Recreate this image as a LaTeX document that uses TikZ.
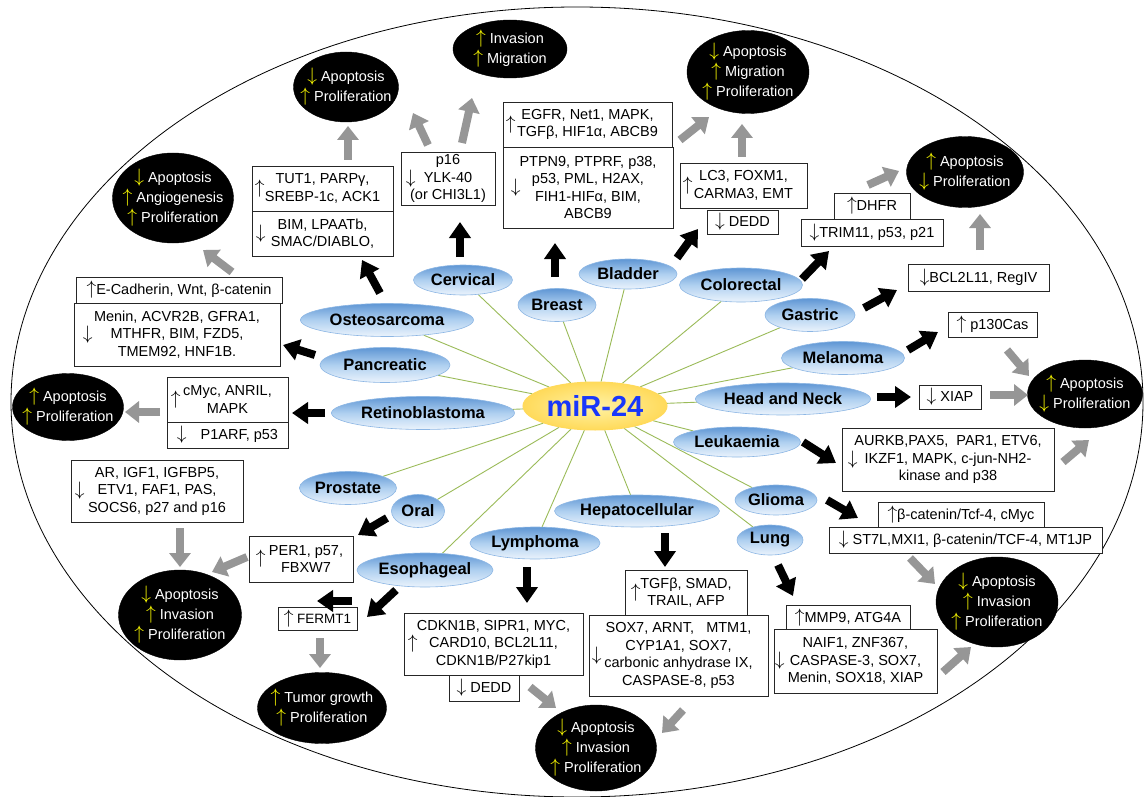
\documentclass[tikz,border=0pt]{standalone}
\usepackage{fontspec}
\setmainfont{Liberation Sans}
\usetikzlibrary{shapes.geometric,arrows.meta}
\pgfdeclarelayer{bg}
\pgfsetlayers{bg,main}
\definecolor{glinec}{RGB}{155,187,89}
\definecolor{grayarr}{RGB}{150,150,150}
\definecolor{cblueA}{RGB}{95,150,212}
\definecolor{cblueB}{RGB}{175,208,240}
\definecolor{cblueC}{RGB}{235,243,252}
\definecolor{cbord}{RGB}{140,182,228}
\definecolor{myel}{RGB}{255,218,90}
\definecolor{myelB}{RGB}{255,242,165}
\definecolor{mirtxt}{RGB}{25,55,250}
\definecolor{ylw}{RGB}{255,255,0}
\newcommand{\bxfont}{\fontsize{14.5}{17.5}\selectfont}
\newcommand{\cafont}{\fontsize{16.5}{19}\selectfont\bfseries}
\newcommand{\outfont}{\fontsize{14.5}{20}\selectfont}
\newcommand{\mirfont}{\fontsize{29}{32}\selectfont\bfseries}
\newcommand{\UpA}{\scalebox{1.35}{$\uparrow$}}
\newcommand{\DnA}{\scalebox{1.35}{$\downarrow$}}
\newcommand{\YU}{\textcolor{ylw}{\UpA}}
\newcommand{\YD}{\textcolor{ylw}{\DnA}}
\newcommand{\linkar}[5]{\draw[#1] ([shift={(#3)}]#2.center) -- ([shift={(#5)}]#4.center);}
\tikzset{
 cancer/.style={ellipse, inner sep=0pt, top color=cblueA, bottom color=cblueC, middle color=cblueB, draw=cbord, line width=0.6pt, font=\cafont},
 outc/.style={ellipse, fill=black, draw=black, inner sep=0pt},
 outtxt/.style={text=white, align=center, font=\outfont, inner sep=0pt},
 bx/.style={draw=black!85, line width=0.8pt, fill=white, inner sep=1pt, align=center, font=\bxfont},
 arr/.style={anchor=west, inner sep=0pt, font=\bxfont},
 barrow/.style={draw=black, line width=8pt, -{Triangle[length=16pt,width=21pt]}},
 grarrow/.style={draw=grayarr, line width=8pt, -{Triangle[length=14pt,width=21pt]}},
 gl/.style={draw=glinec, line width=0.9pt},
}
\begin{document}
\begin{tikzpicture}[x=1pt,y=-1pt]
\useasboundingbox (0,0) rectangle (1144,797);
\begin{pgfonlayer}{bg}
\fill[white] (0,0) rectangle (1144,797);
\node[draw=black, line width=0.8pt, ellipse, inner sep=0pt, minimum width=1132, minimum height=790] (outer) at (577,402) {};
\end{pgfonlayer}
% centre
\node[ellipse, inner sep=0pt, minimum width=144, minimum height=48, inner color=myelB, outer color=myel, draw=myel, line width=1pt, font=\mirfont, text=mirtxt] (mir) at (595,406) {miR-24};
% cancers
\node[cancer, minimum width=99, minimum height=30] (cerv) at (463,280) {Cervical};
\node[cancer, minimum width=78, minimum height=33] (brst) at (557,305) {Breast};
\node[cancer, minimum width=98, minimum height=30] (bldr) at (628,274) {Bladder};
\node[cancer, minimum width=123, minimum height=34] (colo) at (741,285) {Colorectal};
\node[cancer, minimum width=90, minimum height=33] (gast) at (810,315) {Gastric};
\node[cancer, minimum width=123, minimum height=33] (mela) at (843,358) {Melanoma};
\node[cancer, minimum width=175, minimum height=32] (hn) at (783,399) {Head and Neck};
\node[cancer, minimum width=127, minimum height=30] (leuk) at (737,442) {Leukaemia};
\node[cancer, minimum width=82, minimum height=30] (glio) at (776,500) {Glioma};
\node[cancer, minimum width=66, minimum height=30] (lung) at (770,540) {Lung};
\node[cancer, minimum width=165, minimum height=32] (hepa) at (637,511) {Hepatocellular};
\node[cancer, minimum width=130, minimum height=32] (lymph) at (535,543) {Lymphoma};
\node[cancer, minimum width=136, minimum height=34] (esoph) at (425,570) {Esophageal};
\node[cancer, minimum width=53, minimum height=33] (oral) at (418,511) {Oral};
\node[cancer, minimum width=97, minimum height=33] (prost) at (348,488) {Prostate};
\node[cancer, minimum width=183, minimum height=33] (retino) at (423,413) {Retinoblastoma};
\node[cancer, minimum width=130, minimum height=35] (panc) at (385,365) {Pancreatic};
\node[cancer, minimum width=173, minimum height=33] (osteo) at (387,320) {Osteosarcoma};
\begin{pgfonlayer}{bg}
\foreach \c in {cerv,brst,bldr,colo,gast,mela,hn,leuk,glio,lung,hepa,lymph,esoph,oral,prost,retino,panc,osteo}
  \draw[gl] (mir) -- (\c);
\end{pgfonlayer}
% outcome ellipses
\node[outc, minimum width=105, minimum height=70] (o1) at (346,87) {};
\node[outtxt] (o1t) at (o1) {\YD\ Apoptosis\\\YU\ Proliferation};
\node[outc, minimum width=121, minimum height=90] (o2) at (173,198) {};
\node[outtxt] (o2t) at (o2) {\YD\ Apoptosis\\\YU\ Angiogenesis\\\YU\ Proliferation};
\node[outc, minimum width=114, minimum height=58] (o3) at (510,49) {};
\node[outtxt] (o3t) at (o3) {\YU\ Invasion\\\YU\ Migration};
\node[outc, minimum width=122, minimum height=83] (o4) at (748,72) {};
\node[outtxt] (o4t) at (o4) {\YD\ Apoptosis\\\YU\ Migration\\\YU\ Proliferation};
\node[outc, minimum width=117, minimum height=71] (o5) at (965,172) {};
\node[outtxt] (o5t) at (o5) {\YU\ Apoptosis\\\YD\ Proliferation};
\node[outc, minimum width=115, minimum height=68] (o6) at (1085,394) {};
\node[outtxt] (o6t) at (o6) {\YU\ Apoptosis\\\YD\ Proliferation};
\node[outc, minimum width=111, minimum height=67] (o7) at (68,407) {};
\node[outtxt] (o7t) at (o7) {\YU\ Apoptosis\\\YU\ Proliferation};
\node[outc, minimum width=123, minimum height=90] (o8) at (180,615) {};
\node[outtxt] (o8t) at (o8) {\YD\ Apoptosis\\\YU\ Invasion\\\YU\ Proliferation};
\node[outc, minimum width=129, minimum height=71] (o9) at (322,708) {};
\node[outtxt] (o9t) at (o9) {\YU\ Tumor growth\\\YU\ Proliferation};
\node[outc, minimum width=121, minimum height=86] (o10) at (596,748) {};
\node[outtxt] (o10t) at (o10) {\YD\ Apoptosis\\\YU\ Invasion\\\YU\ Proliferation};
\node[outc, minimum width=122, minimum height=90] (o11) at (997,602) {};
\node[outtxt] (o11t) at (o11) {\YD\ Apoptosis\\\YU\ Invasion\\\YU\ Proliferation};
% boxes
\node[bx, minimum width=141, minimum height=45] (tut1) at (322.5,188.5) {TUT1, PARPγ,\\SREBP-1c, ACK1};
\node[arr] (tut1a) at ([xshift=3]tut1.west) {\UpA};
\node[bx, minimum width=141, minimum height=45] (bim) at (322.5,233.5) {BIM, LPAATb,\\SMAC/DIABLO,};
\node[arr] (bima) at ([xshift=4]bim.west) {\DnA};
\node[bx, minimum width=94, minimum height=53] (p16) at (448,178.5) {p16\\YLK-40\\(or CHI3L1)};
\node[arr] (p16a) at ([xshift=5]p16.west) {\DnA};
\node[bx, minimum width=169, minimum height=45] (egfr) at (587.5,124.5) {EGFR, Net1, MAPK,\\TGFβ, HIF1α, ABCB9};
\node[arr] (egfra) at ([xshift=3]egfr.west) {\UpA};
\node[bx, minimum width=170, minimum height=81] (ptpn) at (588,187.5) {PTPN9, PTPRF, p38,\\p53, PML, H2AX,\\FIH1-HIFα, BIM,\\ABCB9};
\node[arr] (ptpna) at ([xshift=8]ptpn.west) {\DnA};
\node[bx, minimum width=127, minimum height=45] (lc3) at (743.5,185.5) {LC3, FOXM1,\\CARMA3, EMT};
\node[arr] (lc3a) at ([xshift=3]lc3.west) {\UpA};
\node[bx, minimum width=71, minimum height=24] (dedda) at (742.5,222) {\DnA\ DEDD};
\node[bx, minimum width=76, minimum height=26] (dhfr) at (872,206) {\UpA DHFR};
\node[bx, minimum width=142, minimum height=27] (trim) at (872,232.5) {\DnA TRIM11, p53, p21};
\node[bx, minimum width=141, minimum height=27] (bcl) at (978.5,277.5) {\DnA BCL2L11, RegIV};
\node[bx, minimum width=89, minimum height=25] (p130) at (992.5,324.5) {\UpA\ p130Cas};
\node[bx, minimum width=62, minimum height=24] (xiap) at (950,397) {\DnA\ XIAP};
\node[bx, minimum width=212, minimum height=63] (aurkb) at (948,459.5) {AURKB,PAX5,\ \ PAR1, ETV6,\\IKZF1, MAPK, c-jun-NH2-\\kinase and p38};
\node[arr] (aurkba) at ([xshift=6]aurkb.west) {\DnA};
\node[bx, minimum width=166, minimum height=25] (bcat) at (961,514.5) {\UpA β-catenin/Tcf-4, cMyc};
\node[bx, minimum width=273, minimum height=26] (st7l) at (965.5,540) {\DnA\ ST7L,MXI1, β-catenin/TCF-4, MT1JP};
\node[bx, minimum width=124, minimum height=25] (mmp9) at (848,617.5) {\UpA MMP9, ATG4A};
\node[bx, minimum width=163, minimum height=64] (naif) at (855.5,661) {NAIF1, ZNF367,\\CASPASE-3, SOX7,\\Menin, SOX18, XIAP};
\node[arr] (naifa) at ([xshift=1]naif.west) {\DnA};
\node[bx, minimum width=122, minimum height=45] (tgfb) at (686,592.5) {TGFβ, SMAD,\\TRAIL, AFP};
\node[arr] (tgfba) at ([xshift=6]tgfb.west) {\UpA};
\node[bx, minimum width=179, minimum height=81] (sox7) at (678.5,655.5) {SOX7, ARNT,\ \ \ MTM1,\\CYP1A1, SOX7,\\carbonic anhydrase IX,\\CASPASE-8,\ p53};
\node[arr] (sox7a) at ([xshift=3]sox7.west) {\DnA};
\node[bx, minimum width=179, minimum height=62] (cdkn) at (493.5,644) {CDKN1B, SIPR1, MYC,\\CARD10, BCL2L11,\\CDKN1B/P27kip1};
\node[arr] (cdkna) at ([xshift=4]cdkn.west) {\UpA};
\node[bx, minimum width=70, minimum height=26] (deddb) at (484,688) {\DnA\ DEDD};
\node[bx, minimum width=79, minimum height=23, font=\fontsize{13.5}{16}\selectfont] (fermt) at (317.5,618.5) {\UpA\ FERMT1};
\node[bx, minimum width=104, minimum height=46] (per1) at (301,559) {\hspace*{10pt}PER1, p57,\\\hspace*{10pt}FBXW7};
\node[arr] (per1a) at ([xshift=7]per1.west) {\UpA};
\node[bx, minimum width=172, minimum height=62] (ar) at (157,491) {AR, IGF1, IGFBP5,\\ETV1, FAF1, PAS,\\SOCS6, p27 and p16};
\node[arr] (ara) at ([xshift=4]ar.west) {\DnA};
\node[bx, minimum width=121, minimum height=45] (cmyc) at (227.5,399.5) {cMyc, ANRIL,\\MAPK};
\node[arr] (cmyca) at ([xshift=4]cmyc.west) {\UpA};
\node[bx, minimum width=121, minimum height=26] (p1arf) at (227.5,435) {\DnA\hspace{14pt}P1ARF, p53};
\node[bx, minimum width=206, minimum height=26] (ecad) at (179,290) {\UpA E-Cadherin, Wnt, β-catenin};
\node[bx, minimum width=206, minimum height=63] (menin) at (177,334.5) {Menin, ACVR2B, GFRA1,\\MTHFR, BIM, FZD5,\\TMEM92, HNF1B.};
\node[arr] (menina) at ([xshift=9]menin.west) {\DnA};
% black arrows
\linkar{barrow}{osteo}{-7,-27}{bim}{39.5,26.5}
\linkar{barrow}{cerv}{-3,-23}{p16}{12,43.5}
\linkar{barrow}{brst}{-2,-28}{ptpn}{-33,55.5}
\linkar{barrow}{bldr}{49,-16}{dedda}{-44.5,7}
\linkar{barrow}{colo}{61,-6}{trim}{-43,18.5}
\linkar{barrow}{gast}{54,-7}{bcl}{-81.5,12.5}
\linkar{barrow}{mela}{65,-8}{p130}{-54.5,7.5}
\linkar{barrow}{hn}{94,-2}{xiap}{-39,0}
\linkar{barrow}{leuk}{66,0}{aurkb}{-112,3.5}
\linkar{barrow}{glio}{51,0}{bcat}{-103,3.5}
\linkar{barrow}{lung}{8,25}{mmp9}{-55,-21.5}
\linkar{barrow}{hepa}{28,22}{tgfb}{-21,-25.5}
\linkar{barrow}{lymph}{-8,24}{cdkn}{33.5,-41}
\linkar{barrow}{esoph}{-29,20}{fermt}{49.5,-1.5}
\linkar{barrow}{fermt}{34.5,-17.5}{fermt}{-0.5,-17.5}
\linkar{barrow}{oral}{-31,7}{per1}{57,-24}
\linkar{barrow}{panc}{-70,-10}{menin}{106,10.5}
\linkar{barrow}{retino}{-98,0}{cmyc}{64.5,13.5}
% gray arrows
\linkar{grarrow}{tut1}{25.5,-28.5}{o1}{2,39}
\linkar{grarrow}{ecad}{53,-18}{o2}{30,52}
\linkar{grarrow}{p16}{-20,-33.5}{o1}{67,26}
\linkar{grarrow}{p16}{14,-35.5}{o3}{-38,49}
\linkar{grarrow}{egfr}{92.5,15.5}{o4}{-39,45}
\linkar{grarrow}{lc3}{-1.5,-28.5}{o4}{-6,52}
\linkar{grarrow}{dhfr}{-4,-21}{o5}{-66,-1}
\linkar{grarrow}{bcl}{1.5,-27.5}{o5}{15,42}
\linkar{grarrow}{p130}{14.5,25.5}{o6}{-56,-18}
\linkar{grarrow}{xiap}{40,-2}{o6}{-57,1}
\linkar{grarrow}{aurkb}{115,2.5}{o6}{4,46}
\linkar{grarrow}{st7l}{-55.5,18}{o11}{-62,-18}
\linkar{grarrow}{naif}{87.5,11}{o11}{-26,45}
\linkar{grarrow}{sox7}{4.5,54.5}{o10}{66,-15}
\linkar{grarrow}{deddb}{46,-1}{o10}{-40,-40}
\linkar{grarrow}{fermt}{2.5,19.5}{o9}{-2,-40}
\linkar{grarrow}{per1}{-54,-2}{o8}{32,-43}
\linkar{grarrow}{ar}{23,37}{o8}{0,-48}
\linkar{grarrow}{cmyc}{-67.5,12.5}{o7}{57,5}
\end{tikzpicture}
\end{document}
